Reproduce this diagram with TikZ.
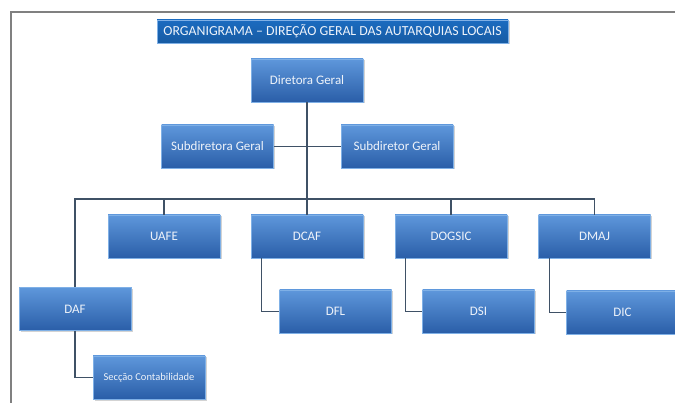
\documentclass[tikz,border=0pt]{standalone}
\usepackage{fontspec}
\setmainfont{Carlito}
\usepackage{tikz}
\usetikzlibrary{shadows}
\definecolor{BoxTop}{HTML}{5E97DB}
\definecolor{BoxBot}{HTML}{2A5EA8}
\definecolor{BoxEdge}{HTML}{7FB0E6}
\definecolor{Head}{HTML}{1B6BC0}
\definecolor{Link}{HTML}{3F5166}
\definecolor{Frame}{HTML}{808080}
\definecolor{Label}{HTML}{EEF3FA}

\begin{document}
\begin{tikzpicture}[x=1pt,y=-1pt,
  unit/.style={top color=BoxTop, bottom color=BoxBot, draw=BoxEdge, line width=0.6pt,
    text=Label, font=\fontsize{13}{15}\selectfont, minimum width=112pt,
    minimum height=43pt, inner sep=0pt,
    drop shadow={shadow xshift=1.5pt, shadow yshift=-1.5pt, opacity=0.35}},
  headbox/.style={unit, top color=Head, bottom color=Head!85!black,
    minimum width=351pt, minimum height=23pt, font=\fontsize{13.8}{15}\selectfont},
  link/.style={draw=Link, line width=1.4pt}]
  \useasboundingbox (0,0) rectangle (675,403);
  \draw[Frame, line width=1.5pt] (11,403) -- (11,12) -- (675,12);
  \node[headbox] (title) at (332.5,31.5) {ORGANIGRAMA – DIREÇÃO GERAL DAS AUTARQUIAS LOCAIS};
  \node[unit] (dir) at (307,80.5) {Diretora Geral};
  \node[unit] (subA) at (217.5,146.5) {Subdiretora Geral};
  \node[unit] (subB) at (397,146.5) {Subdiretor Geral};
  \node[unit] (uafe) at (164,236.5) {UAFE};
  \node[unit] (dcaf) at (307,236.5) {DCAF};
  \node[unit] (dogsic) at (451,236.5) {DOGSIC};
  \node[unit] (dmaj) at (594.5,236.5) {DMAJ};
  \node[unit] (daf) at (75,309) {DAF};
  \node[unit] (dfl) at (335.5,311.5) {DFL};
  \node[unit] (dsi) at (478.5,311.5) {DSI};
  \node[unit] (dic) at (622.5,312.5) {DIC};
  \node[unit,font=\fontsize{10.5}{12}\selectfont] (secc) at (149,377.5) {Secção Contabilidade};
  \coordinate (bar) at (307,199);
  \draw[link] (dir.south) -- (dcaf.north);
  \draw[link] (subA.east) -- (subB.west);
  \draw[link] (daf.north) |- (bar) -| (dmaj.north);
  \draw[link] (uafe.north) -- (uafe.north |- bar);
  \draw[link] (dogsic.north) -- (dogsic.north |- bar);
  \foreach \p/\c in {dcaf/dfl,dogsic/dsi,dmaj/dic}
    \draw[link] ([xshift=11pt]\p.south west) |- (\c.west);
  \draw[link] (daf.south) |- (secc.west);
\end{tikzpicture}
\end{document}
